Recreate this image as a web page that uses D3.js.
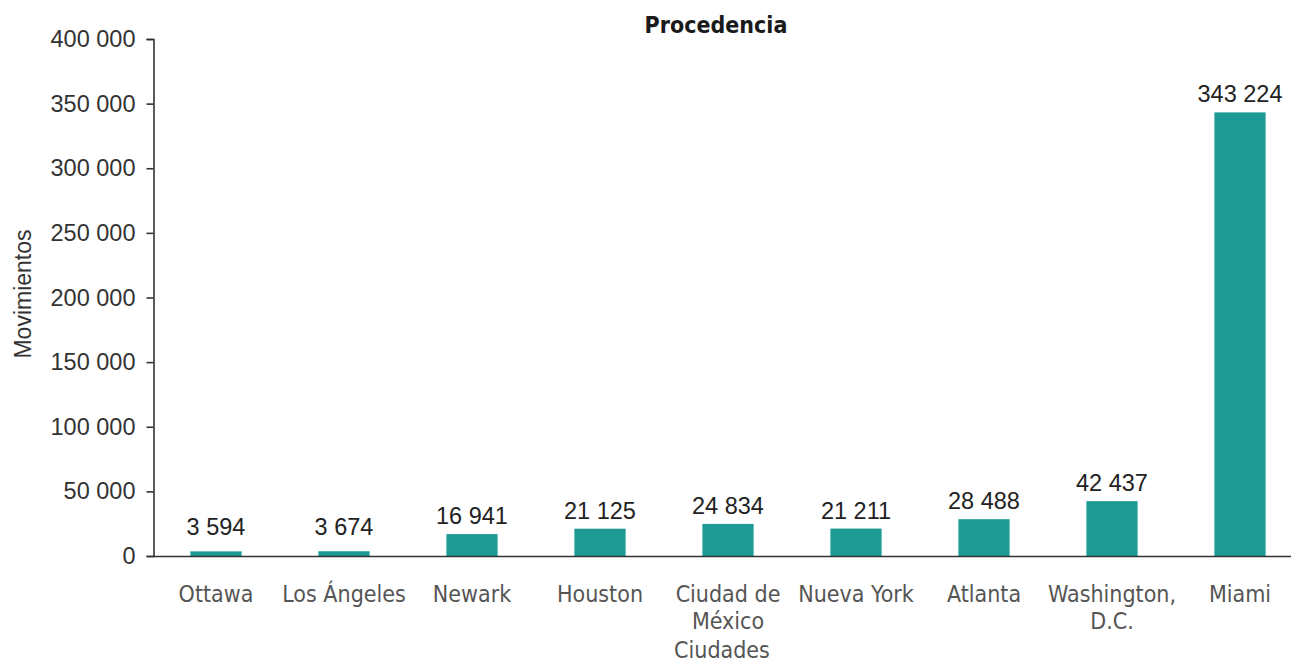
<!DOCTYPE html>
<html>
<head>
<meta charset="utf-8">
<script src="https://cdn.jsdelivr.net/npm/d3@7"></script>
<style>
  html, body { margin: 0; padding: 0; background: #fff; }
  svg { display: block; }
</style>
</head>
<body>
<svg id="chart" width="1291" height="664"></svg>
<script>
const categories = ["Ottawa", "Los Ángeles", "Newark", "Houston", "Ciudad de\nMéxico", "Nueva York", "Atlanta", "Washington,\nD.C.", "Miami"];
const values = [3594, 3674, 16941, 21125, 24834, 21211, 28488, 42437, 343224];
const yTicks = [0, 50000, 100000, 150000, 200000, 250000, 300000, 350000, 400000];
const chartTitle = "Procedencia";
const xTitle = "Ciudades";
const yTitle = "Movimientos";

const W = 1291, H = 664;
const svg = d3.select("#chart");
const locale = d3.formatLocale({ decimal: ",", thousands: " ", grouping: [3], currency: ["", ""] });
const fmt = locale.format(",d");

const condensed = "'DejaVu Sans Condensed', 'DejaVu Sans', Tahoma, sans-serif";
const arial = "'Liberation Sans', Arial, sans-serif";

const x = d3.scaleBand().domain(categories).range([152, 1304]).paddingInner(0.6).paddingOuter(0.3);
const y = d3.scaleLinear().domain([0, 400000]).range([556, 39]);

// Title
svg.append("text")
  .attr("x", 716).attr("y", 33)
  .attr("text-anchor", "middle")
  .style("font-family", condensed).style("font-weight", "bold").style("font-size", "23px")
  .attr("fill", "#1a1a1a")
  .text(chartTitle);

// Bars
svg.append("g").selectAll("rect").data(values).join("rect")
  .attr("x", (d, i) => x(categories[i]))
  .attr("width", x.bandwidth())
  .attr("y", d => y(d))
  .attr("height", d => y(0) - y(d))
  .attr("fill", "#1e9a94");

// Value labels
svg.append("g").selectAll("text").data(values).join("text")
  .attr("x", (d, i) => x(categories[i]) + x.bandwidth() / 2)
  .attr("y", d => Math.min(y(d) - 10, y(0) - 21))
  .attr("text-anchor", "middle")
  .style("font-family", arial).style("font-size", "23.5px")
  .attr("fill", "#222")
  .text(d => fmt(d));

// Y axis
const yAxis = svg.append("g")
  .attr("transform", "translate(153.5,0)")
  .call(d3.axisLeft(y).tickValues(yTicks).tickFormat(fmt).tickSize(7).tickPadding(11).tickSizeOuter(7));
yAxis.selectAll("path, line").attr("stroke", "#333").attr("stroke-width", 1.6);
yAxis.selectAll("text")
  .style("font-family", arial).style("font-size", "23.5px").attr("fill", "#333");

// X axis
const xAxis = svg.append("g")
  .attr("transform", "translate(0,556.5)")
  .call(d3.axisBottom(x).tickSize(0).tickSizeOuter(0).tickPadding(0).tickFormat(""));
xAxis.select(".domain").attr("d", `M153,0H${W}`).attr("stroke", "#333").attr("stroke-width", 1.6);
xAxis.selectAll(".tick").each(function (d) {
  const t = d3.select(this).select("text");
  t.text(null)
    .attr("y", 0).attr("dy", null)
    .style("font-family", condensed).style("font-size", "23px").attr("fill", "#555");
  d.split("\n").forEach((line, k) => {
    t.append("tspan").attr("x", 0).attr("y", 45 + k * 27).text(line);
  });
});

// Axis titles
svg.append("text")
  .attr("x", 722).attr("y", 658)
  .attr("text-anchor", "middle")
  .style("font-family", condensed).style("font-size", "23px").attr("fill", "#555")
  .text(xTitle);

svg.append("text")
  .attr("transform", "translate(31,294) rotate(-90)")
  .attr("text-anchor", "middle")
  .style("font-family", arial).style("font-size", "23px").attr("fill", "#333")
  .text(yTitle);
</script>
</body>
</html>
